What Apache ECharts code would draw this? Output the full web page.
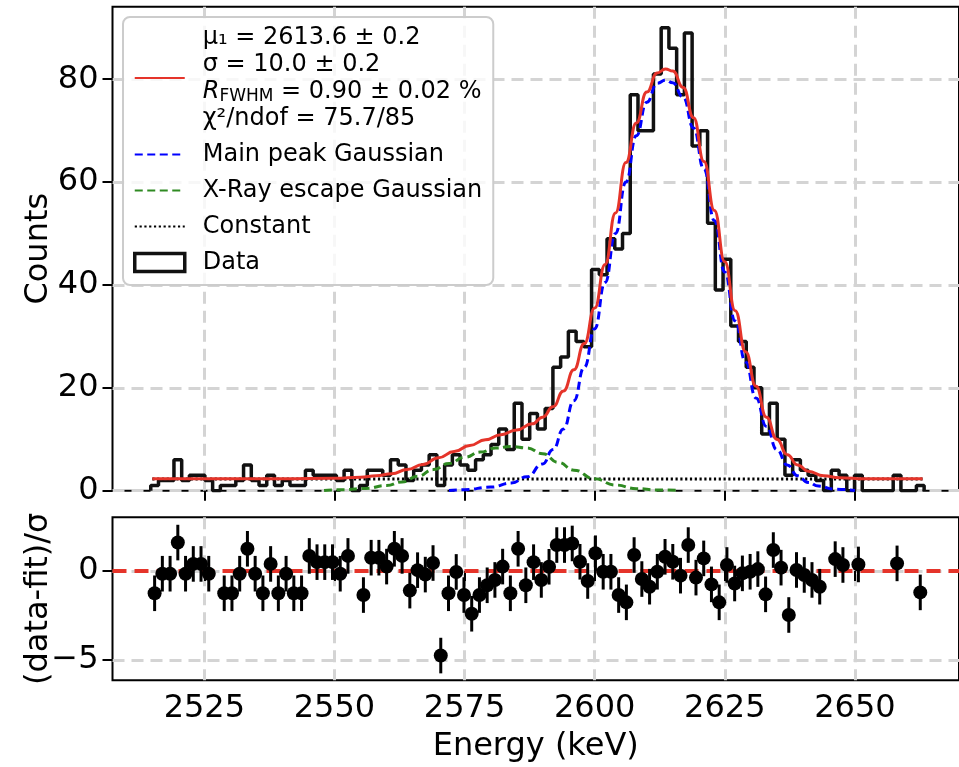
<!DOCTYPE html>
<html>
<head>
<meta charset="utf-8">
<style>
    html, body {margin: 0; padding: 0; background: #fff;}
    #chart-1 {width: 959px; height: 767px;}
</style>
<script src="https://cdn.jsdelivr.net/npm/echarts@6/dist/echarts.min.js"></script>
</head>
<body>
<div id="chart-1"></div>
<script type="text/javascript">
    // histogram binning (keV)
    var binStart = 2514.7;
    var binWidth = 1.486;
    // counts per bin
    var counts = [1, 2, 2, 6, 2, 3, 3, 2, 0, 1,
        1, 2, 5, 2, 1, 3, 1, 2, 1, 1,
        4, 3, 3, 3, 2, 4, 0, 1, 4, 4,
        3, 6, 5, 2, 4, 5, 7, 1, 5, 7,
        5, 4, 6, 7, 9, 12, 8, 17, 10, 15,
        12, 16, 24, 26, 31, 29, 28, 43, 42, 49,
        47, 50, 77, 70, 70, 81, 90, 86, 77, 89,
        67, 70, 52, 39, 45, 32, 29, 24, 20, 11,
        17, 10, 3, 6, 4, 3, 2, 0, 4, 3,
        0, 3, 0, 0, 0, 0, 3, 0, 0, 1];
    // (data-fit)/sigma per bin, null = empty bin
    var residuals = [-1.25, -0.15, -0.15, 1.6, -0.15, 0.4, 0.4, -0.15, null, -1.25,
        -1.25, -0.15, 1.25, -0.15, -1.25, 0.4, -1.25, -0.15, -1.25, -1.25,
        0.85, 0.5, 0.5, 0.5, -0.15, 0.85, null, -1.35, 0.75, 0.75,
        0.25, 1.25, 0.85, -1.1, 0.05, -0.2, 0.45, -4.75, -1.25, -0.05,
        -1.35, -2.4, -1.35, -0.8, -0.5, 0.25, -1.25, 1.25, -0.8, 0.5,
        -0.5, 0.24, 1.46, 1.46, 1.55, 0.52, -0.56, 1.0, -0.04, -0.04,
        -1.35, -1.76, 0.9, -0.45, -0.88, -0.04, 0.8, 0.52, -0.26, 1.46,
        -0.37, 0.71, -0.75, -1.76, 0.34, -0.7, -0.13, -0.04, 0.11, -1.31,
        1.18, 0.19, -2.47, 0.06, -0.22, -0.5, -0.88, null, 0.67, 0.34,
        null, 0.37, null, null, null, null, 0.43, null, null, -1.2];
    var residErr = 1;

    // fit curves
    var fitE = [2515, 2540, 2550, 2555, 2558, 2561, 2564, 2567, 2570, 2573, 2576, 2579, 2582, 2585, 2588, 2590, 2592, 2594, 2596, 2598, 2600, 2602, 2604, 2606, 2608, 2610, 2612, 2613.6, 2615, 2617, 2619, 2621, 2623, 2625, 2627, 2629, 2631, 2633, 2635, 2637, 2639, 2641, 2644, 2647, 2652, 2663];
    var fitY = [2.3, 2.3, 2.4, 2.6, 2.9, 3.3, 4.1, 5.1, 6.4, 7.6, 8.8, 9.9, 10.9, 11.8, 13.0, 14.3, 16.3, 19.4, 23.5, 28.6, 35.5, 44, 54, 63.8, 71.5, 77.5, 81.2, 82.0, 81.6, 78.4, 72.5, 64, 54.5, 44.5, 35, 27, 20.3, 14.3, 10, 7, 5, 3.8, 2.9, 2.5, 2.3, 2.3];
    var mainE = [2572, 2575, 2580, 2584, 2587, 2590, 2592, 2594, 2596, 2598, 2600, 2602, 2604, 2606, 2608, 2610, 2612, 2613.6, 2615, 2617, 2619, 2621, 2623, 2625, 2627, 2629, 2631, 2633, 2635, 2637, 2639, 2641, 2643, 2646, 2650];
    var mainY = [0.05, 0.2, 0.7, 1.5, 2.7, 5.2, 8, 12, 17.5, 24, 31.5, 40.5, 50, 60, 69, 75.5, 79.2, 79.8, 79.3, 76.5, 70.5, 62.5, 52.5, 42.5, 33, 25, 18, 12.5, 8, 5, 2.9, 1.6, 0.9, 0.3, 0.05];
    var escE = [2548, 2552, 2556, 2560, 2563, 2566, 2569, 2572, 2575, 2578, 2581, 2584, 2587, 2590, 2593, 2596, 2600, 2604, 2608, 2612, 2616];
    var escY = [0.05, 0.2, 0.45, 1.0, 1.7, 2.8, 4.1, 5.3, 6.5, 7.5, 8.3, 8.6, 8.3, 7.2, 5.5, 4.0, 2.3, 1.1, 0.4, 0.15, 0.05];
    var constLevel = 2.27;
    var constRange = [2515, 2663];

    var xMin = 2507.35, xMax = 2670;
    var xTicks = [2525, 2550, 2575, 2600, 2625, 2650];
    var countTicks = [0, 20, 40, 60, 80];
    var residTicks = [-5, 0];

    function pairs(xs, ys) {
        return xs.map(function (x, i) { return [x, ys[i]]; });
    }
    // step outline of the histogram
    var histLine = [[binStart, 0]];
    counts.forEach(function (c, i) { histLine.push([binStart + i * binWidth, c]); });
    histLine.push([binStart + counts.length * binWidth, counts[counts.length - 1]]);
    histLine.push([binStart + counts.length * binWidth, 0]);

    var residData = [];
    residuals.forEach(function (r, i) {
        if (r !== null) residData.push([binStart + (i + 0.5) * binWidth, r, residErr]);
    });

    var font = 'DejaVu Sans';
    var gridLine = {show: true, lineStyle: {color: '#d4d4d4', width: 3, type: [12, 7]}};
    var tick = {show: true, length: 10, lineStyle: {color: '#000', width: 2}};
    var plain = function (v) { return String(v).replace('-', '\u2212'); };
    var noDot = {opacity: 0};

    var myChart = echarts.init(document.getElementById('chart-1'), null, {renderer: 'canvas'});
    var option = {
        backgroundColor: '#fff',
        animation: false,
        textStyle: {fontFamily: font, color: '#000'},
        grid: [
            {left: 112.5, top: 6.7, width: 849.7, height: 484, show: true, borderColor: '#000', borderWidth: 2},
            {left: 112.5, top: 517.3, width: 849.7, height: 163, show: true, borderColor: '#000', borderWidth: 2}
        ],
        legend: {
            orient: 'vertical',
            left: 123,
            top: 17,
            padding: [7, 11, 9, 10],
            itemGap: 9,
            itemWidth: 50,
            itemHeight: 18,
            backgroundColor: 'rgba(255,255,255,0.8)',
            borderColor: '#cccccc',
            borderWidth: 2,
            borderRadius: 7,
            selectedMode: false,
            textStyle: {
                fontFamily: font, fontSize: 24, color: '#000', lineHeight: 27,
                padding: [0, 0, 0, 13],
                rich: {
                    a: {fontFamily: font, fontSize: 24, lineHeight: 27, color: '#000'},
                    i: {fontFamily: font, fontSize: 24, lineHeight: 27, fontStyle: 'italic', color: '#000'},
                    s: {fontFamily: font, fontSize: 17, lineHeight: 10, verticalAlign: 'bottom', color: '#000'}
                }
            },
            formatter: function (name) {
                if (name === 'fit') {
                    return '{a|μ₁ = 2613.6 ± 0.2}\n{a|σ = 10.0 ± 0.2}\n{i|R}{s|FWHM}{a| = 0.90 ± 0.02 %}\n{a|χ²/ndof = 75.7/85}';
                }
                return name;
            },
            data: [
                {name: 'fit', itemStyle: noDot},
                {name: 'Main peak Gaussian', itemStyle: noDot},
                {name: 'X-Ray escape Gaussian', itemStyle: noDot},
                {name: 'Constant', itemStyle: noDot},
                {name: 'Data', icon: 'rect', itemStyle: {color: 'rgba(0,0,0,0)', borderColor: '#111', borderWidth: 3.5, opacity: 1}}
            ]
        },
        xAxis: [
            {
                type: 'value', gridIndex: 0, min: xMin, max: xMax,
                axisLine: {show: false},
                axisTick: Object.assign({customValues: xTicks}, tick),
                axisLabel: {show: false, customValues: xTicks},
                splitLine: gridLine
            },
            {
                type: 'value', gridIndex: 1, min: xMin, max: xMax,
                axisLine: {show: false},
                axisTick: Object.assign({customValues: xTicks}, tick),
                axisLabel: {customValues: xTicks, fontSize: 32, color: '#000', margin: 12, fontFamily: font, formatter: plain},
                splitLine: gridLine,
                name: 'Energy (keV)', nameLocation: 'middle', nameGap: 50, nameMoveOverlap: false,
                nameTextStyle: {fontSize: 32, color: '#000', fontFamily: font}
            }
        ],
        yAxis: [
            {
                type: 'value', gridIndex: 0, min: 0, max: 94.1,
                axisLine: {show: false},
                axisTick: Object.assign({customValues: countTicks}, tick),
                axisLabel: {customValues: countTicks, fontSize: 32, color: '#000', margin: 14, fontFamily: font, formatter: plain},
                splitLine: gridLine,
                name: 'Counts', nameLocation: 'middle', nameGap: 58, nameMoveOverlap: false,
                nameTextStyle: {fontSize: 32, color: '#000', fontFamily: font}
            },
            {
                type: 'value', gridIndex: 1, min: -6.14, max: 3.02,
                axisLine: {show: false},
                axisTick: Object.assign({customValues: residTicks}, tick),
                axisLabel: {customValues: residTicks, fontSize: 32, color: '#000', margin: 14, fontFamily: font, formatter: plain},
                splitLine: gridLine,
                name: '(data-fit)/σ', nameLocation: 'middle', nameGap: 58, nameMoveOverlap: false,
                nameTextStyle: {fontSize: 32, color: '#000', fontFamily: font}
            }
        ],
        series: [
            {
                name: 'Data', type: 'line', xAxisIndex: 0, yAxisIndex: 0,
                step: 'end', symbol: 'none',
                lineStyle: {color: '#111', width: 3.5},
                itemStyle: {color: '#111'},
                data: histLine, z: 2
            },
            {
                name: 'fit', type: 'line', xAxisIndex: 0, yAxisIndex: 0,
                smooth: true, smoothMonotone: 'x', symbol: 'none',
                lineStyle: {color: '#e5342a', width: 3},
                itemStyle: {color: '#e5342a'},
                data: pairs(fitE, fitY), z: 5
            },
            {
                name: 'Main peak Gaussian', type: 'line', xAxisIndex: 0, yAxisIndex: 0,
                smooth: true, smoothMonotone: 'x', symbol: 'none',
                lineStyle: {color: '#0000ff', width: 3, type: [8, 4.5]},
                itemStyle: {color: '#0000ff'},
                data: pairs(mainE, mainY), z: 4
            },
            {
                name: 'X-Ray escape Gaussian', type: 'line', xAxisIndex: 0, yAxisIndex: 0,
                smooth: true, smoothMonotone: 'x', symbol: 'none',
                lineStyle: {color: '#2f8a22', width: 3, type: [8, 4.5]},
                itemStyle: {color: '#2f8a22'},
                data: pairs(escE, escY), z: 4
            },
            {
                name: 'Constant', type: 'line', xAxisIndex: 0, yAxisIndex: 0,
                symbol: 'none',
                lineStyle: {color: '#000', width: 3, type: [2.2, 2.6]},
                itemStyle: {color: '#000'},
                data: [[constRange[0], constLevel], [constRange[1], constLevel]], z: 3
            },
            {
                name: 'zero', type: 'line', xAxisIndex: 1, yAxisIndex: 1,
                symbol: 'none', silent: true,
                lineStyle: {color: '#e5342a', width: 4, type: [14, 8]},
                data: [[xMin, 0], [xMax, 0]], z: 2
            },
            {
                name: 'errors', type: 'custom', xAxisIndex: 1, yAxisIndex: 1,
                renderItem: function (params, api) {
                    var x = api.value(0), y = api.value(1), e = api.value(2);
                    var p1 = api.coord([x, y - e]);
                    var p2 = api.coord([x, y + e]);
                    return {
                        type: 'line',
                        shape: {x1: p1[0], y1: p1[1], x2: p2[0], y2: p2[1]},
                        style: {stroke: '#000', lineWidth: 3}
                    };
                },
                data: residData, z: 3
            },
            {
                name: 'residuals', type: 'scatter', xAxisIndex: 1, yAxisIndex: 1,
                symbolSize: 14,
                itemStyle: {color: '#000', opacity: 1},
                data: residData.map(function (d) { return [d[0], d[1]]; }), z: 4
            }
        ]
    };
    myChart.setOption(option);
</script>
</body>
</html>
